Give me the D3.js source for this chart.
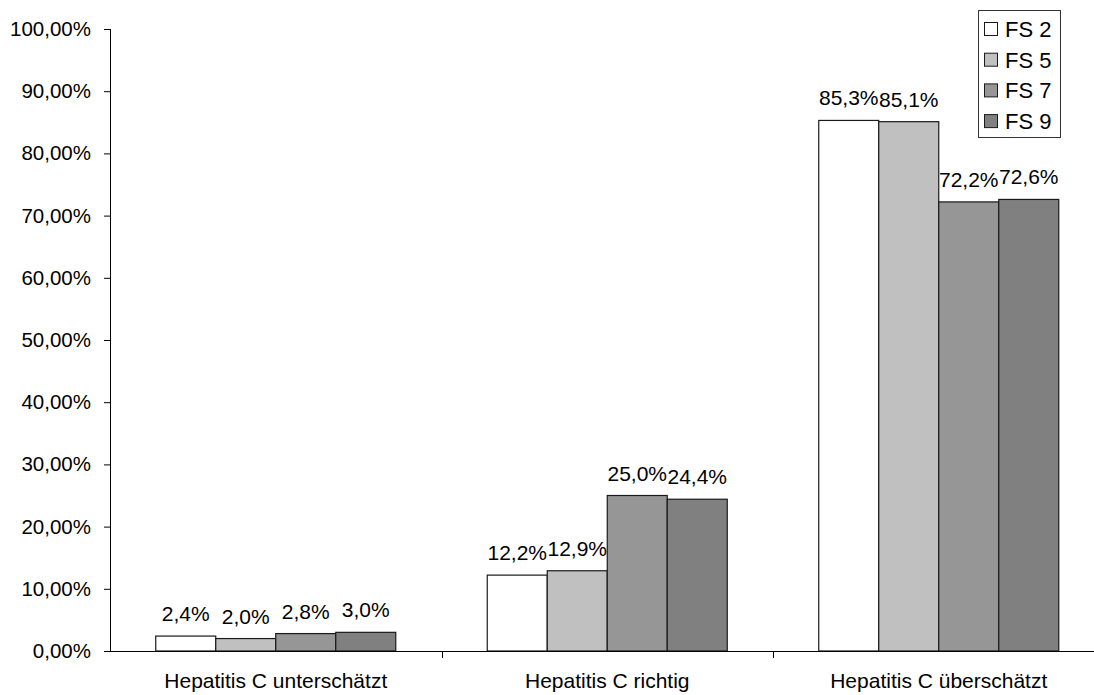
<!DOCTYPE html>
<html>
<head>
<meta charset="utf-8">
<script src="https://cdn.jsdelivr.net/npm/d3@7"></script>
<style>
  html, body { margin: 0; padding: 0; background: #fff; }
  svg { display: block; font-family: "Liberation Sans", Arial, sans-serif; }
</style>
</head>
<body>
<svg id="chart" width="1094" height="695"></svg>
<script>
// Kategorien und Anteile (in %) je Fachsemester
const categories = ["Hepatitis C unterschätzt", "Hepatitis C richtig", "Hepatitis C überschätzt"];
const seriesNames = ["FS 2", "FS 5", "FS 7", "FS 9"];
const fs2 = [2.4, 12.2, 85.3];
const fs5 = [2.0, 12.9, 85.1];
const fs7 = [2.8, 25.0, 72.2];
const fs9 = [3.0, 24.4, 72.6];
const yTicks = [0, 10, 20, 30, 40, 50, 60, 70, 80, 90, 100];
const seriesColors = ["#ffffff", "#c0c0c0", "#969696", "#808080"];

const seriesValues = [fs2, fs5, fs7, fs9];
const rows = categories.map((c, i) => ({
  category: c,
  values: seriesNames.map((s, j) => ({ series: s, value: seriesValues[j][i] }))
}));

const svg = d3.select("#chart");
const plotLeft = 110, plotRight = 1104.5, plotTop = 29, plotBottom = 651;

const x0 = d3.scaleBand().domain(categories).range([plotLeft, plotRight])
  .paddingInner(0.276).paddingOuter(0.138);
const x1 = d3.scaleBand().domain(seriesNames).range([0, x0.bandwidth()]).padding(0);
const y = d3.scaleLinear().domain([0, 100]).range([plotBottom, plotTop]);
const color = d3.scaleOrdinal().domain(seriesNames).range(seriesColors);

const fmtTick = v => v.toFixed(2).replace(".", ",") + "%";
const fmtVal = v => v.toFixed(1).replace(".", ",") + "%";

// Y-Achse
const yAxis = svg.append("g")
  .attr("transform", `translate(${plotLeft},0)`)
  .call(d3.axisLeft(y).tickValues(yTicks).tickFormat(fmtTick).tickSizeOuter(0).tickSize(6).tickPadding(13));
yAxis.select(".domain").attr("stroke", "#000").attr("d", `M0.5,${plotBottom}V${plotTop}`);
yAxis.selectAll(".tick line").attr("stroke", "#000");
yAxis.selectAll(".tick text").attr("font-size", 20.5).attr("fill", "#000")
  .attr("font-family", "Liberation Sans, Arial, sans-serif");

// Balken
const groups = svg.append("g").selectAll("g")
  .data(rows).join("g")
  .attr("transform", d => `translate(${x0(d.category)},0)`);

groups.selectAll("rect")
  .data(d => d.values).join("rect")
  .attr("x", d => x1(d.series))
  .attr("y", d => y(d.value))
  .attr("width", x1.bandwidth())
  .attr("height", d => y(0) - y(d.value))
  .attr("fill", d => color(d.series))
  .attr("stroke", "#1a1a1a")
  .attr("stroke-width", 1.2);

// Wertebeschriftungen
groups.selectAll("text")
  .data(d => d.values).join("text")
  .attr("x", d => x1(d.series) + x1.bandwidth() / 2)
  .attr("y", d => y(d.value) - 15)
  .attr("text-anchor", "middle")
  .attr("font-size", 21)
  .attr("fill", "#000")
  .text(d => fmtVal(d.value));

// X-Achse (Kategorieachse)
const step = x0.step();
const boundaries = d3.range(categories.length + 1).map(i => plotLeft + i * step);
const xAxis = svg.append("g");
xAxis.append("line")
  .attr("x1", plotLeft).attr("x2", plotRight)
  .attr("y1", plotBottom + 0.5).attr("y2", plotBottom + 0.5)
  .attr("stroke", "#000");
xAxis.selectAll("line.tick")
  .data(boundaries.slice(1)).join("line")
  .attr("class", "tick")
  .attr("x1", d => Math.round(d) + 0.5).attr("x2", d => Math.round(d) + 0.5)
  .attr("y1", plotBottom).attr("y2", plotBottom + 7)
  .attr("stroke", "#000");
xAxis.selectAll("text")
  .data(categories).join("text")
  .attr("x", d => x0(d) + x0.bandwidth() / 2)
  .attr("y", 688)
  .attr("text-anchor", "middle")
  .attr("font-size", 21)
  .attr("fill", "#000")
  .text(d => d);

// Legende
const legend = svg.append("g").attr("transform", "translate(978,10)");
legend.append("rect")
  .attr("x", 0.5).attr("y", 0.5).attr("width", 82).attr("height", 127)
  .attr("fill", "#fff").attr("stroke", "#333");
const items = legend.selectAll("g.item")
  .data(seriesNames).join("g")
  .attr("class", "item")
  .attr("transform", (d, i) => `translate(0,${19 + i * 30.7})`);
items.append("rect")
  .attr("x", 6.5).attr("y", -6.5).attr("width", 13).attr("height", 13)
  .attr("fill", d => color(d)).attr("stroke", "#1a1a1a");
items.append("text")
  .attr("x", 27).attr("y", 8)
  .attr("font-size", 22)
  .attr("fill", "#000")
  .text(d => d);
</script>
</body>
</html>
